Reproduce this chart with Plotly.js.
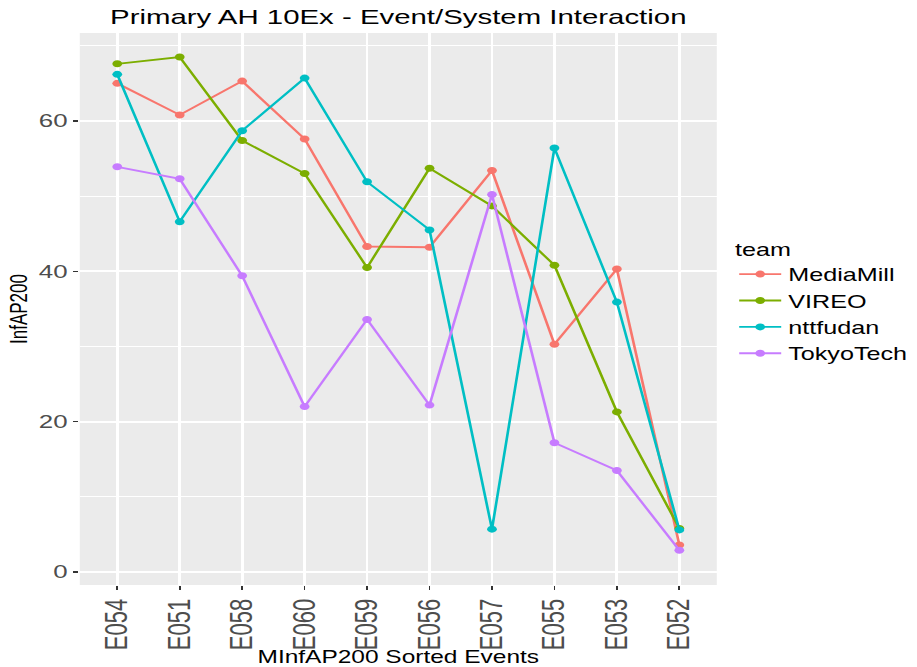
<!DOCTYPE html>
<html>
<head>
<meta charset="utf-8">
<script src="https://cdn.plot.ly/plotly-3.0.1.min.js"></script>
<style>
  html, body { margin: 0; padding: 0; background: #ffffff; overflow: hidden; }
  #wrap { width: 917px; height: 667px; overflow: hidden; }
  #chart { width: 655px; height: 667px; transform: scaleX(1.4); transform-origin: 0 0; }
</style>
</head>
<body>
<div id="wrap"><div id="chart"></div></div>
<script>
const events = ["E054", "E051", "E058", "E060", "E059", "E056", "E057", "E055", "E053", "E052"];
const teams = ["MediaMill", "VIREO", "nttfudan", "TokyoTech"];
const mediaMill = [65.0, 60.8, 65.3, 57.6, 43.3, 43.2, 53.4, 30.3, 40.3, 3.6];
const vireo     = [67.6, 68.5, 57.4, 53.0, 40.5, 53.7, 48.7, 40.8, 21.3, 5.8];
const nttfudan  = [66.2, 46.6, 58.7, 65.7, 51.9, 45.5, 5.7, 56.4, 35.9, 5.6];
const tokyoTech = [53.9, 52.3, 39.4, 22.0, 33.6, 22.2, 50.2, 17.2, 13.5, 2.9];
const colors = ["#F8766D", "#7CAE00", "#00BFC4", "#C77CFF"];
const series = [mediaMill, vireo, nttfudan, tokyoTech];

const FONT = "Liberation Sans, Arial, Helvetica, sans-serif";

const traces = teams.map((t, i) => ({
  type: "scatter",
  mode: "lines+markers",
  name: t,
  x: events,
  y: series[i],
  line: { color: colors[i], width: 1.9 },
  marker: { color: colors[i], size: 7 }
}));

const layout = {
  width: 655,
  height: 667,
  margin: { l: 57, r: 143, t: 33, b: 82 },
  paper_bgcolor: "#ffffff",
  plot_bgcolor: "#EBEBEB",
  font: { family: FONT, color: "#000000" },
  title: {
    text: "Primary AH 10Ex - Event/System Interaction",
    font: { family: FONT, size: 21, color: "#000000" },
    xref: "paper", x: 0.5, xanchor: "center",
    yref: "container", y: 1 - 17 / 667, yanchor: "middle"
  },
  xaxis: {
    type: "category",
    categoryorder: "array",
    categoryarray: events,
    range: [-0.6, 9.6],
    showgrid: true,
    gridcolor: "#ffffff",
    gridwidth: 2,
    zeroline: false,
    showline: false,
    ticks: "outside",
    ticklen: 4,
    tickwidth: 1.2,
    tickcolor: "#333333",
    tickangle: -90,
    tickfont: { family: FONT, size: 22, color: "#4D4D4D" },
    title: { text: "MInfAP200 Sorted Events", font: { family: FONT, size: 17.5, color: "#000000" }, standoff: 10 },
    fixedrange: true
  },
  yaxis: {
    range: [-1.73, 71.7],
    tickvals: [0, 20, 40, 60],
    ticktext: ["0", "20", "40", "60"],
    showgrid: true,
    gridcolor: "#ffffff",
    gridwidth: 2,
    minor: { tickvals: [10, 30, 50, 70], showgrid: true, gridcolor: "#ffffff", gridwidth: 1, ticks: "" },
    zeroline: false,
    showline: false,
    ticks: "outside",
    ticklen: 4,
    tickwidth: 1.2,
    tickcolor: "#333333",
    tickfont: { family: FONT, size: 18.5, color: "#4D4D4D" },
    title: { text: "InfAP200", font: { family: FONT, size: 17, color: "#000000" }, standoff: 3 },
    fixedrange: true
  },
  showlegend: true,
  legend: {
    xref: "container", x: 523 / 655, xanchor: "left",
    yref: "container", y: 1 - 302 / 667, yanchor: "middle",
    bgcolor: "rgba(0,0,0,0)",
    font: { family: FONT, size: 18, color: "#000000" },
    title: { text: "team", font: { family: FONT, size: 18, color: "#000000" } },
    itemwidth: 30,
    tracegroupgap: 0
  }
};

Plotly.newPlot("chart", traces, layout, { displayModeBar: false, staticPlot: true });
</script>
</body>
</html>
